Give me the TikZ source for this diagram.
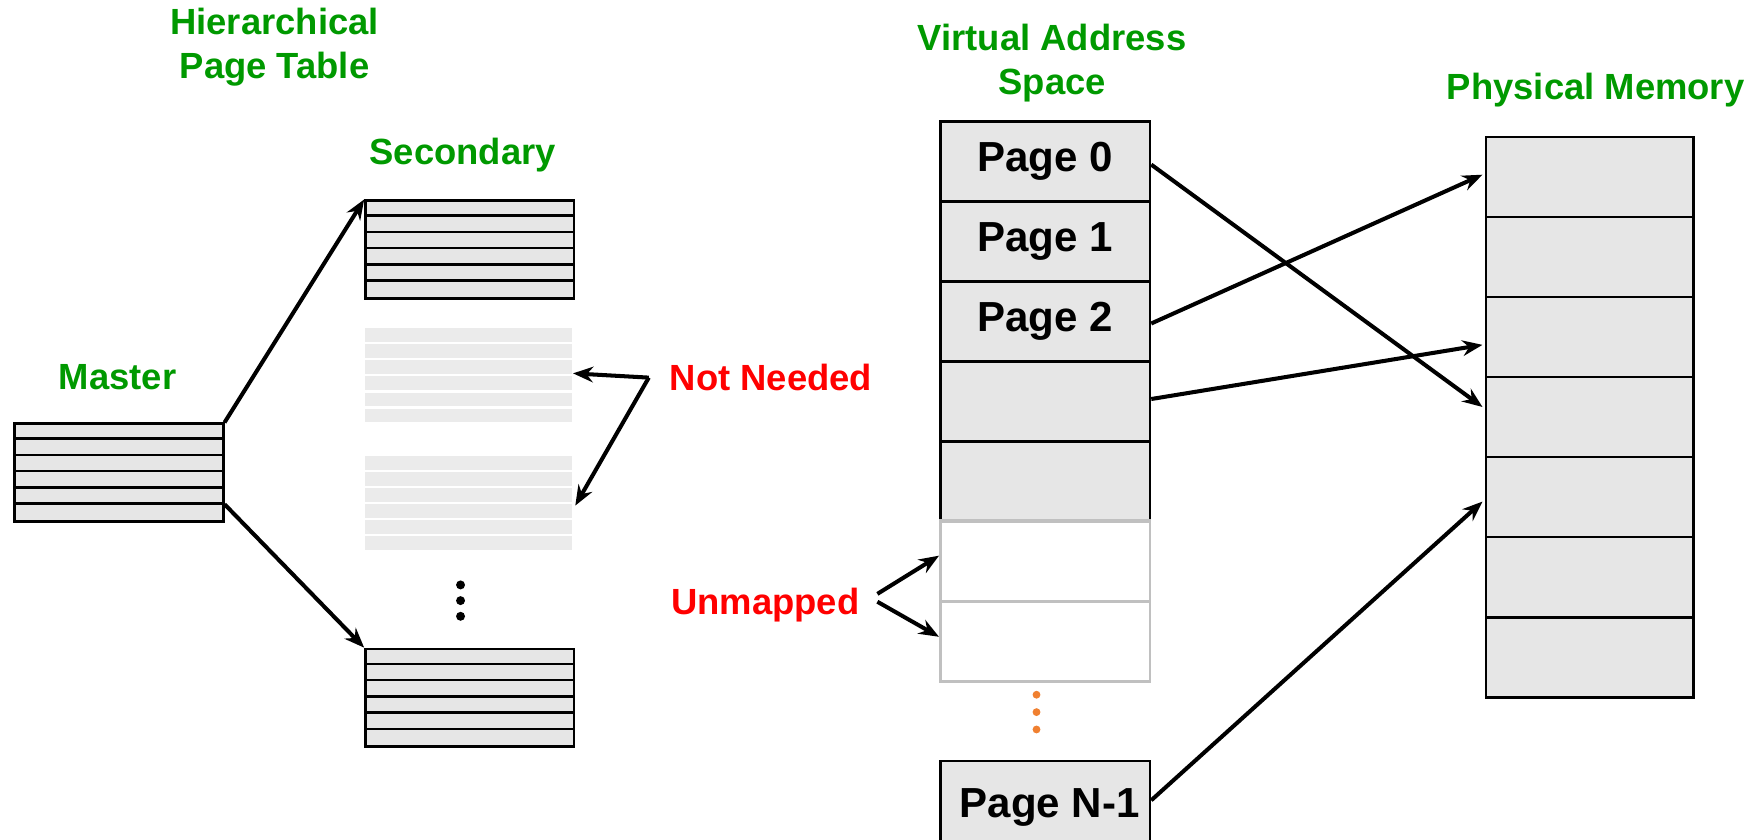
\documentclass[tikz,border=0pt]{standalone}
\usepackage{fontspec}
\setmainfont{Liberation Sans}
\usetikzlibrary{arrows.meta}
\definecolor{lblgreen}{RGB}{0,153,0}
\definecolor{lblred}{RGB}{255,0,0}
\definecolor{cellgray}{RGB}{230,230,230}
\definecolor{fadegray}{RGB}{235,235,235}
\definecolor{dotorange}{RGB}{240,128,48}
\definecolor{ghost}{RGB}{192,192,192}
\newcommand\striptab[3]{%
  \node[tbl] (#1) at (#2,#3) {};
  \foreach \i in {1,...,5}
    \draw[line width=2.2pt] ([yshift=-\i*14.5pt]#1.north west) -- ([yshift=-\i*14.5pt]#1.north east);
}
\newcommand\fadetab[3]{%
  \node[fadebox] (#1) at (#2,#3) {};
  \foreach \i in {0,...,5}
    \fill[fadegray] ([yshift=-\i*14.33pt]#1.north west) rectangle ([yshift=-\i*14.33pt-12.33pt]#1.north east);
}
\begin{document}
\begin{tikzpicture}[x=1pt,y=-1pt,
  glabel/.style={text=lblgreen,font=\fontsize{32.5}{39.5}\selectfont\bfseries,align=center,inner sep=0pt},
  rlabel/.style={text=lblred,font=\fontsize{32.5}{38}\selectfont\bfseries,inner sep=0pt},
  tbl/.style={draw=black,line width=2.4pt,fill=cellgray,minimum width=186pt,minimum height=87pt,inner sep=0pt,anchor=north west},
  fadebox/.style={minimum width=184pt,minimum height=84pt,inner sep=0pt,anchor=north west},
  cell/.style={draw=black,line width=2.4pt,fill=cellgray,minimum width=187pt,minimum height=71.4pt,inner sep=0pt,anchor=north west,font=\fontsize{37.5}{40}\selectfont\bfseries},
  emptycell/.style={cell,draw=ghost,fill=white},
  pmcell/.style={cell,minimum width=185pt},
  arr/.style={line width=3.6pt,-{Stealth[length=18pt,width=14pt,inset=6pt]}},
  dot/.style={circle,fill=#1,inner sep=0pt,minimum size=8pt}
]
\useasboundingbox (0,0) rectangle (1568,749);

% titles
\node[glabel] (title) at (245,42) {Hierarchical\\Page Table};
\node[glabel] (seclbl) at (413,138) {Secondary};
\node[glabel] (mastlbl) at (105,337) {Master};
\node[glabel] (vaslbl) at (939,56) {Virtual Address\\Space};
\node[glabel] (pmlbl) at (1424,80) {Physical Memory};
\node[rlabel] (nnlbl) at (688,337) {Not Needed};
\node[rlabel] (umlbl) at (683,540) {Unmapped};

% hierarchical tables
\striptab{master}{12}{377}
\striptab{sec1}{325}{178}
\fadetab{fade1}{326}{293}
\fadetab{fade2}{326}{407}
\striptab{sec2}{325}{578}
\node[dot=black] (bd1) at (411,522) {};
\node[dot=black] (bd2) at (411,536) {};
\node[dot=black] (bd3) at (411,550) {};

% virtual address space
\node[cell] (p0) at (838,107) {Page 0};
\node[cell] (p1) at (838,178.4) {Page 1};
\node[cell] (p2) at (838,249.8) {Page 2};
\node[cell] (p3) at (838,321.2) {};
\node[cell] (p4) at (838,392.6) {};
\node[emptycell] (u1) at (838,464) {};
\node[emptycell] (u2) at (838,535.4) {};
\draw[ghost,line width=2.4pt] (u1.north west) -- (u1.north east);
\node[dot=dotorange,minimum size=7pt] (od1) at (925,620) {};
\node[dot=dotorange,minimum size=7pt] (od2) at (925,635.5) {};
\node[dot=dotorange,minimum size=7pt] (od3) at (925,651) {};
\node[cell,minimum height=82pt] (pn) at (838,678) {\hspace*{8pt}Page N-1};

% physical memory
\foreach \i in {1,...,7}
  \node[pmcell] (pm\i) at (1325,{121+(\i-1)*71.43}) {};

% connectors
\draw[arr] (master.north east) -- (sec1.north west);
\draw[arr] ([yshift=-73pt]master.north east) -- (sec2.north west);
\coordinate (nnfork) at (579,337);
\draw[arr] (nnfork) -- ([xshift=1pt,yshift=2pt]fade1.east);
\draw[arr] (nnfork) -- ([xshift=3pt,yshift=-2pt]fade2.east);
\coordinate (umfork1) at (783,530);
\coordinate (umfork2) at (783,537);
\draw[arr] (umfork1) -- ([yshift=5pt]u1.west);
\draw[arr] (umfork2) -- ([yshift=4pt]u2.west);
\draw[arr] ([yshift=-3pt]p0.east) -- ([xshift=-2pt,yshift=9pt]pm4.west);
\draw[arr] ([yshift=-2pt]p2.east) -- ([xshift=-2pt,yshift=2pt]pm1.west);
\draw[arr] ([yshift=2pt]p3.east) -- ([xshift=-2pt,yshift=-7pt]pm3.west);
\draw[arr] ([yshift=6pt]pn.east) -- ([xshift=-2pt,yshift=-4pt]pm5.west);
\end{tikzpicture}
\end{document}
